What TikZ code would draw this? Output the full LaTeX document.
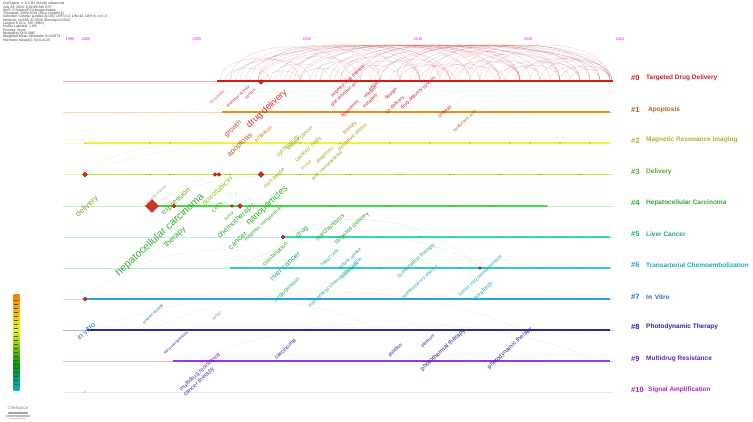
\documentclass[tikz,border=0pt]{standalone}
\usepackage{fontspec}
\setmainfont{Liberation Sans}
\setsansfont{Liberation Sans}
\usetikzlibrary{shapes.geometric}
\definecolor{c0}{HTML}{C81E2E}
\definecolor{c1}{HTML}{B8601A}
\definecolor{c2}{HTML}{B8B020}
\definecolor{c3}{HTML}{62A828}
\definecolor{c4}{HTML}{38A838}
\definecolor{c5}{HTML}{20A890}
\definecolor{c6}{HTML}{20A8B8}
\definecolor{c7}{HTML}{2868B8}
\definecolor{c8}{HTML}{2828A8}
\definecolor{c9}{HTML}{6428B8}
\definecolor{c10}{HTML}{A828B8}
\definecolor{l0}{HTML}{D81818}
\definecolor{l1}{HTML}{E89010}
\definecolor{l2}{HTML}{F4F040}
\definecolor{l3}{HTML}{B4EC3C}
\definecolor{l4}{HTML}{44DC44}
\definecolor{l5}{HTML}{30D8B8}
\definecolor{l6}{HTML}{30C8DC}
\definecolor{l7}{HTML}{30A0DC}
\definecolor{l8}{HTML}{2828B0}
\definecolor{l9}{HTML}{A030DC}
\definecolor{l10}{HTML}{E0A8E8}
\definecolor{yr}{HTML}{E020E0}
\definecolor{nred}{HTML}{D83030}
\pgfdeclareverticalshading{csbar}{17pt}{color(0pt)=(blue!70!violet); color(18pt)=(cyan!70!blue); color(36pt)=(green!60!black); color(54pt)=(yellow!90!green); color(72pt)=(orange); color(88pt)=(red); color(95pt)=(red!60!magenta)}
\tikzset{
  kw/.style={rotate=43, inner sep=0pt, font=\sffamily},
  fs/.style={font=\fontsize{#1}{#1}\selectfont},
  cl/.style={anchor=west, inner sep=0pt, font=\bfseries\fontsize{6.5}{6.5}\selectfont},
  cn/.style={anchor=west, inner sep=0pt, font=\bfseries\fontsize{7.5}{7.5}\selectfont},
  yl/.style={inner sep=0pt, text=yr, font=\fontsize{4}{4}\selectfont},
  bline/.style={line width=1.1pt},
  fline/.style={line width=0.4pt},
  rd/.style={diamond, fill=nred, draw=red!60!black, line width=0.3pt, inner sep=0pt, minimum size=#1},
  arcr/.style={draw=red!70!black, opacity=0.2, line width=0.35pt},
  arcg/.style={draw=gray, opacity=0.15, line width=0.35pt},
}
\begin{document}
\begin{tikzpicture}[x=1pt,y=-1pt]
\useasboundingbox (0,0) rectangle (753,422);
\fill[white] (0,0) rectangle (753,422);

% header
\node[anchor=north west, inner sep=0pt, align=left, text=black!75, font=\fontsize{3.5}{3.3}\selectfont] (hdr) at (3,2) {CiteSpace, v. 6.3.R1 (64-bit) Advanced\\July 24, 2024, 8:02:49 AM CST\\WoS: C:\textbackslash Users\textbackslash PC\textbackslash citespace\textbackslash data\\Timespan: 1999-2024 (Slice Length=1)\\Selection Criteria: g-index (k=25), LRF=3.0, L/N=10, LBY=5, e=1.0\\Network: N=565, E=3538 (Density=0.0222)\\Largest 8 CCs: 507 (89\%)\\Nodes Labeled: 1.0\%\\Pruning: None\\Modularity Q=0.3987\\Weighted Mean Silhouette S=0.6873\\Harmonic Mean(Q, S)=0.4125};

% years
\node[yl] (y1999) at (70,39) {1999};
\node[yl] (y2000) at (86,39) {2000};
\node[yl] (y2005) at (197,39) {2005};
\node[yl] (y2010) at (307,39) {2010};
\node[yl] (y2015) at (418,39) {2015};
\node[yl] (y2020) at (528,39) {2020};
\node[yl] (y2024) at (620,39) {2024};

% arcs above cluster 0
\foreach \a/\b in {220/300,230/350,240/420,258/380,258/450,258/520,270/330,280/400,290/470,300/560,310/380,320/440,330/500,340/590,350/420,360/480,370/540,380/610,390/450,400/520,410/580,420/480,430/560,440/600,450/520,460/590,470/540,480/610,500/570,520/600,258/610,230/580,245/500,265/300,300/345,345/400,400/455,455/505,505/560,540/612,285/520,250/440,360/610,415/612,225/270,235/310,275/360,295/420,315/470,335/420,355/520,375/450,395/560,425/530,435/495,445/550,465/560,485/590,495/545,515/580,530/610,550/600,560/612,570/612,300/500,320/600,340/520,380/580}{
  \pgfmathsetmacro{\h}{min(48,0.38*(\b-\a))}
  \draw[arcr] (\a,81) .. controls (\a,81-\h) and (\b,81-\h) .. (\b,81);
}
% faint arcs between lower rows
\draw[arcg] (85,299) .. controls (150,240) and (260,240) .. (300,268);
\draw[arcg] (150,330) .. controls (250,280) and (420,280) .. (520,330);
\draw[arcg] (200,361) .. controls (300,310) and (480,310) .. (600,361);
\draw[arcg] (240,268) .. controls (300,225) and (420,225) .. (480,268);
\draw[arcg] (85,175) .. controls (120,140) and (200,140) .. (258,143);
\draw[arcg] (152,206) .. controls (200,170) and (240,170) .. (261,175);
\draw[arcg] (100,330) .. controls (180,290) and (300,290) .. (380,330);
\draw[draw=l3, opacity=0.3, line width=0.35pt] (85,175) .. controls (120,155) and (180,150) .. (217,143);
\draw[draw=l2, opacity=0.3, line width=0.35pt] (86,143) .. controls (140,110) and (200,105) .. (243,112);
\draw[draw=l4, opacity=0.25, line width=0.35pt] (152,206) .. controls (190,180) and (230,180) .. (261,175);
\draw[draw=l6, opacity=0.25, line width=0.35pt] (283,237) .. controls (330,210) and (420,210) .. (480,268);

% faint full-length lines
\foreach \r/\y in {0/81,1/112,2/143,3/174.5,4/206,5/237,6/268,7/299,8/330,9/361,10/392}{
  \coordinate (fa\r) at (63,\y);
  \coordinate (fb\r) at (613,\y);
  \draw[fline, draw=l\r, opacity=0.35] (fa\r) -- (fb\r);
}
% solid timelines
\coordinate (s0) at (217,81);   \coordinate (e0) at (613,81);
\coordinate (s1) at (222,112);  \coordinate (e1) at (610,112);
\coordinate (s2) at (85,143);   \coordinate (e2) at (610,143);
\coordinate (s3) at (85,174.5); \coordinate (e3) at (610,174.5);
\coordinate (s4) at (152,206);  \coordinate (e4) at (547,206);
\coordinate (s5) at (283,237);  \coordinate (e5) at (610,237);
\coordinate (s6) at (230,268);  \coordinate (e6) at (610,268);
\coordinate (s7) at (85,299);   \coordinate (e7) at (610,299);
\coordinate (s8) at (87,330);   \coordinate (e8) at (610,330);
\coordinate (s9) at (173,361);  \coordinate (e9) at (610,361);
\foreach \r in {0,...,9}{ \draw[bline, draw=l\r] (s\r) -- (e\r); }

% small nodes along lines
\foreach \x in {280,300,330,360,390,420,450,480,510,540,570,600}{ \fill[black!60] (\x,81) circle (0.7); }
\foreach \x in {260,300,340,380,420,460,500,540,560,580,600}{ \fill[black!60] (\x,112) circle (0.7); }
\foreach \x in {85,150,170,240,300,340,390,430,470,510,530,560,590}{ \fill[black!60] (\x,143) circle (0.7); }
\foreach \x in {150,170,230,300,350,400,450,500,540,580}{ \fill[black!60] (\x,174.5) circle (0.7); }
\foreach \x in {200,260,330,390,450,490,547}{ \fill[black!60] (\x,206) circle (0.7); }
\foreach \x in {330,380,420,450,500,520,540,560,580,600}{ \fill[black!60] (\x,237) circle (0.7); }
\foreach \x in {380,420,460,500,520,540,560,580,600}{ \fill[black!60] (\x,268) circle (0.7); }
\foreach \x in {140,175,220,330,430,560,600}{ \fill[black!60] (\x,299) circle (0.7); }
\foreach \x in {480,520,560,590,605}{ \fill[black!60] (\x,330) circle (0.7); }
\foreach \x in {470,510,560,590,605}{ \fill[black!60] (\x,361) circle (0.7); }
\fill[black!60] (85,392) circle (0.7);

% red hub nodes
\node[rd=5pt] (h0) at (261,82) {};
\node[rd=5pt] (h3a) at (85,174.5) {};
\node[rd=4pt] (h3b) at (215,174.5) {};
\node[rd=4pt] (h3c) at (219,174.5) {};
\node[rd=6pt] (h3d) at (261,174.5) {};
\node[rd=13pt] (h4a) at (152,206) {};
\node[rd=4pt] (h4b) at (174,206) {};
\node[rd=3pt] (h4c) at (232,206) {};
\node[rd=5pt] (h4d) at (240,206) {};
\node[rd=4pt] (h5) at (283,237) {};
\node[rd=3pt] (h6) at (480,268) {};
\node[rd=4pt] (h7) at (85,299) {};

% cluster labels
\node[cn, text=c0] (n0) at (631,78) {\#0};  \node[cl, text=c0] (t0) at (646,78) {Targeted Drug Delivery};
\node[cn, text=c1] (n1) at (631,110) {\#1}; \node[cl, text=c1] (t1) at (648,110) {Apoptosis};
\node[cn, text=c2] (n2) at (631,141) {\#2}; \node[cl, text=c2] (t2) at (646,140) {Magnetic Resonance Imaging};
\node[cn, text=c3] (n3) at (631,172) {\#3}; \node[cl, text=c3] (t3) at (646,172) {Delivery};
\node[cn, text=c4] (n4) at (631,203) {\#4}; \node[cl, text=c4] (t4) at (646,203) {Hepatocellular Carcinoma};
\node[cn, text=c5] (n5) at (631,234) {\#5}; \node[cl, text=c5] (t5) at (646,234) {Liver Cancer};
\node[cn, text=c6] (n6) at (631,265) {\#6}; \node[cl, text=c6] (t6) at (646,265) {Transarterial Chemoembolization};
\node[cn, text=c7] (n7) at (631,297) {\#7}; \node[cl, text=c7] (t7) at (646,297) {In\, Vitro};
\node[cn, text=c8] (n8) at (631,327) {\#8}; \node[cl, text=c8] (t8) at (646,327) {Photodynamic Therapy};
\node[cn, text=c9] (n9) at (631,359) {\#9}; \node[cl, text=c9] (t9) at (646,359) {Multidrug Resistance};
\node[cn, text=c10] (n10) at (631,390) {\#10}; \node[cl, text=c10] (t10) at (648,390) {Signal Amplification};

% keywords - cluster 0/1/2 area
\node[kw,fs=9,text=c0!80!orange] (k1) at (267,109) {drug delivery};
\node[kw,fs=7,text=c1] (k2) at (233,129) {growth};
\node[kw,fs=7.5,text=c1] (k3) at (240,145) {apoptosis};
\node[kw,fs=5.5,text=c1!80!yellow] (k4) at (263,134) {inhibition};
\node[kw,fs=6,text=c2!90!black] (k5) at (288,146) {cytotoxicity};
\node[kw,fs=5.5,text=c2!90!black] (k6) at (300,138) {breast cancer};
\node[kw,fs=6.5,text=c2!80!green] (k7) at (308,149) {cancer cells};
\node[kw,fs=5.5,text=c1!80!yellow] (k8) at (350,128) {toxicity};
\node[kw,fs=5.5,text=c2!90!black] (k9) at (352,137) {oxidative stress};
\node[kw,fs=5,text=c2!90!black] (k10) at (327,166) {gold nanoparticles};
\node[kw,fs=4.5,text=c2!90!black] (k11) at (306,165) {in vivo};
\node[kw,fs=5,text=c2!90!black] (k12) at (325,155) {diagnosis};
\node[kw,fs=6,text=c2!90!black] (k13) at (274,178) {iron oxide};
\node[kw,fs=5,text=c0] (k14) at (350,109) {liposomes};
\node[kw,fs=5,text=c0] (k15) at (370,101) {micelles};
\node[kw,fs=5,text=c0] (k16) at (370,92) {release};
\node[kw,fs=4.5,text=c0] (k17) at (375,85) {efficacy};
\node[kw,fs=5,text=c0] (k18) at (391,94) {design};
\node[kw,fs=5,text=c0] (k19) at (395,105) {co delivery};
\node[kw,fs=5,text=c0] (k20) at (418,93) {drug delivery system};
\node[kw,fs=4.6,text=c0] (k21) at (348,81) {targeted drug delivery};
\node[kw,fs=4.6,text=c0] (k22) at (345,93) {glycyrrhetinic acid};
\node[kw,fs=4,text=c0] (k23) at (238,97) {antitumor activity};
\node[kw,fs=4,text=c0] (k24) at (250,94) {carriers};
\node[kw,fs=3.8,text=c0!80] (k27) at (217,97) {formulation};
\node[kw,fs=4.5,text=c0] (k25) at (445,112) {strategy};
\node[kw,fs=4.5,text=c1] (k26) at (465,121) {hyaluronic acid};

% cluster 3/4
\node[kw,fs=8,text=c3!90!yellow] (k30) at (87,207) {delivery};
\node[kw,fs=3.8,text=c3!80] (k41) at (155,196) {controlled release};
\node[kw,fs=10.5,text=c4!90!green] (k31) at (160,235) {hepatocellular carcinoma};
\node[kw,fs=8,text=c4] (k32) at (175,237) {therapy};
\node[kw,fs=7.5,text=c3] (k33) at (176,202) {expression};
\node[kw,fs=7.5,text=c2!70!green] (k34) at (217,191) {doxorubicin};
\node[kw,fs=6.5,text=c3] (k35) at (217,207) {cells};
\node[kw,fs=4.5,text=c4] (k36) at (229,216) {tumor};
\node[kw,fs=7.5,text=c4] (k37) at (236,221) {chemotherapy};
\node[kw,fs=7.5,text=c4] (k38) at (238,241) {cancer};
\node[kw,fs=9,text=c4!80!green] (k39) at (267,206) {nanoparticles};
\node[kw,fs=5,text=c4] (k40) at (264,223) {magnetic nanoparticles};

% cluster 5/6
\node[kw,fs=6,text=c4] (k50) at (275,254) {combination};
\node[kw,fs=7,text=c4] (k51) at (302,232) {drug};
\node[kw,fs=6.5,text=c4] (k52) at (330,227) {mechanisms};
\node[kw,fs=6,text=c4] (k53) at (352,228) {targeted delivery};
\node[kw,fs=7.5,text=c5] (k54) at (285,266) {liver cancer};
\node[kw,fs=5.5,text=c5] (k55) at (287,290) {angiogenesis};
\node[kw,fs=5,text=c6] (k56) at (335,282) {transarterial chemoembolization};
\node[kw,fs=4.5,text=c5] (k57) at (330,258) {hepg2 cells};
\node[kw,fs=4.5,text=c5] (k58) at (350,259) {cellular uptake};
\node[kw,fs=4.8,text=c5] (k59) at (350,270) {metastasis};
\node[kw,fs=5.5,text=c5] (k60) at (416,261) {combination therapy};
\node[kw,fs=4.6,text=c6] (k61) at (420,282) {radiofrequency ablation};
\node[kw,fs=5.3,text=c6] (k62) at (480,276) {tumor microenvironment};
\node[kw,fs=5.8,text=c6] (k63) at (483,291) {sorafenib};

% cluster 7/8/9
\node[kw,fs=7.5,text=c7] (k70) at (86,331) {in vitro};
\node[kw,fs=4,text=c7] (k71) at (153,314) {arsenic trioxide};
\node[kw,fs=3.8,text=c7!80] (k80) at (217,316) {cancer};
\node[kw,fs=3.8,text=c8] (k72) at (176,343) {silica nanoparticles};
\node[kw,fs=6,text=c9] (k73) at (200,372) {multidrug resistance};
\node[kw,fs=6,text=c9] (k74) at (199,382) {cancer therapy};
\node[kw,fs=5.8,text=c8] (k75) at (285,349) {carcinoma};
\node[kw,fs=5,text=c8] (k76) at (395,350) {ablation};
\node[kw,fs=4.5,text=c8] (k77) at (428,341) {platinum};
\node[kw,fs=6.2,text=c8] (k78) at (443,350) {photothermal therapy};
\node[kw,fs=6,text=c8] (k79) at (510,348) {photodynamic therapy};

% colour bar
\shade[shading=csbar] (8,295) rectangle (25,390);
\foreach \yy in {300,304,...,386}{ \draw[black!70, line width=0.4pt] (14,\yy) -- (18,\yy); }
\coordinate (cb) at (16,295);

% CiteSpace logo
\node[inner sep=0pt, text=black!45, font=\fontsize{4.5}{4.5}\selectfont] (logo) at (18,408) {CiteSpace};
\fill[black!35] (8,412) rectangle (28,413.5);
\fill[black!25] (6,415) rectangle (30,416.5);
\fill[black!20] (10,418) rectangle (26,419);
\end{tikzpicture}
\end{document}
